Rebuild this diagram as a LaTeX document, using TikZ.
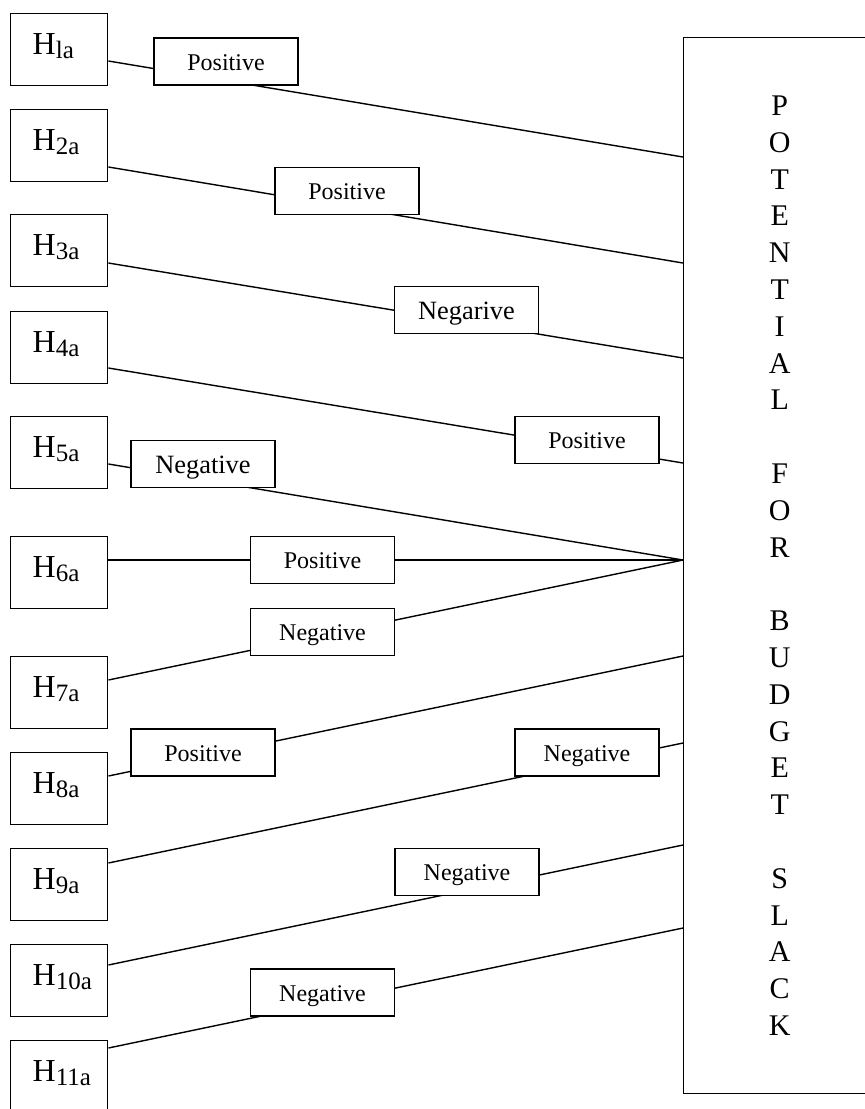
\documentclass[tikz,border=0pt]{standalone}
\usepackage{fontspec}
\setmainfont{Liberation Serif}
\newcommand\Hs[1]{H\raisebox{-2pt}{\fontsize{12.5}{12.5}\selectfont #1}}
\begin{document}
\begin{tikzpicture}[x=0.5pt,y=-0.5pt,
  every path/.style={line width=0.7pt},
  hbox/.style={draw, line width=0.7pt, anchor=north west, minimum width=48.5pt, minimum height=36pt,
    text width=26.5pt, inner xsep=11pt, inner ysep=0pt, align=left,
    font=\fontsize{16}{16}\selectfont, text height=8pt, text depth=3pt},
  lbl/.style={draw, fill=white, line width=0.7pt, minimum width=72pt, minimum height=23.5pt, inner sep=0pt,
    font=\fontsize{12}{12}\selectfont, text height=8.5pt, text depth=0pt},
  lblbig/.style={lbl, font=\fontsize{13.2}{13.2}\selectfont, text height=9.4pt},
  bigbox/.style={draw, line width=0.7pt, anchor=north west, minimum width=96pt, minimum height=528pt,
    inner sep=0pt, align=center, font=\fontsize{15}{18.4}\selectfont}]
\useasboundingbox (0,0) rectangle (864,1109);
% hypothesis boxes
\node[hbox] (h1) at (10,13) {\Hs{la}};
\node[hbox] (h2) at (10,109) {\Hs{2a}};
\node[hbox] (h3) at (10,214) {\Hs{3a}};
\node[hbox] (h4) at (10,311) {\Hs{4a}};
\node[hbox] (h5) at (10,416) {\Hs{5a}};
\node[hbox] (h6) at (10,536) {\Hs{6a}};
\node[hbox] (h7) at (10,656) {\Hs{7a}};
\node[hbox] (h8) at (10,752) {\Hs{8a}};
\node[hbox] (h9) at (10,848) {\Hs{9a}};
\node[hbox] (h10) at (10,944) {\Hs{10a}};
\node[hbox] (h11) at (10,1040) {\Hs{11a}};
% big box
\node[bigbox] (pb) at (683,37) {P\\O\\T\\E\\N\\T\\I\\A\\L\\~\\F\\O\\R\\~\\B\\U\\D\\G\\E\\T\\~\\S\\L\\A\\C\\K};
% connectors
\draw (h1.east |- 0,61) -- (pb.west |- 0,157);
\draw (h2.east |- 0,167) -- (pb.west |- 0,263);
\draw (h3.east |- 0,263) -- (pb.west |- 0,358);
\draw (h4.east |- 0,368) -- (pb.west |- 0,463);
\draw (h5.east |- 0,464) -- (pb.west |- 0,560);
\draw (h6.east |- 0,560) -- (pb.west |- 0,560);
\draw (h7.east |- 0,680) -- (pb.west |- 0,560);
\draw (h8.east |- 0,776) -- (pb.west |- 0,656);
\draw (h9.east |- 0,863) -- (pb.west |- 0,743);
\draw (h10.east |- 0,965) -- (pb.west |- 0,845);
\draw (h11.east |- 0,1048) -- (pb.west |- 0,928);
% labels
\node[lbl] (l1) at (226,61.5) {Positive};
\node[lbl] (l2) at (347,191) {Positive};
\node[lblbig] (l3) at (466.5,310) {Negarive};
\node[lbl] (l4) at (587,440) {Positive};
\node[lblbig] (l5) at (203,464) {Negative};
\node[lbl] (l6) at (322.5,560) {Positive};
\node[lbl] (l7) at (322.5,632) {Negative};
\node[lbl] (l8) at (203,752.5) {Positive};
\node[lbl] (l9) at (587,752.5) {Negative};
\node[lbl] (l10) at (467,872) {Negative};
\node[lbl] (l11) at (322.5,992.5) {Negative};
\end{tikzpicture}
\end{document}
